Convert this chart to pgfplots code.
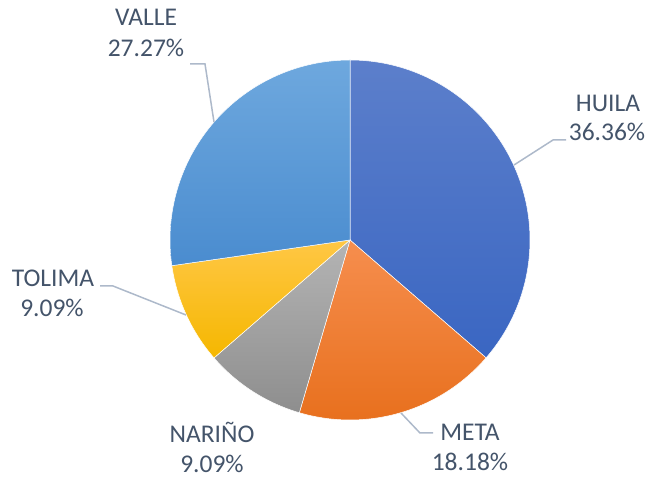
\documentclass[border=0pt]{standalone}
\usepackage{pgfplots}
\pgfplotsset{compat=1.18}
\usepackage{fontspec}
\setmainfont{Carlito}
\definecolor{txt}{HTML}{44546A}
\definecolor{leader}{HTML}{ADB9CA}
\definecolor{huilaT}{HTML}{5C7FCB}
\definecolor{huilaB}{HTML}{3A66C2}
\definecolor{metaT}{HTML}{F68E4E}
\definecolor{metaB}{HTML}{E8701E}
\definecolor{narT}{HTML}{B4B4B4}
\definecolor{narB}{HTML}{8E8E8E}
\definecolor{tolT}{HTML}{FFC745}
\definecolor{tolB}{HTML}{F5B700}
\definecolor{valT}{HTML}{6EA8DE}
\definecolor{valB}{HTML}{4A8CCF}
\def\cx{350}\def\cy{241}\def\rr{180}
\begin{document}
\begin{tikzpicture}
\begin{axis}[
  scale only axis, width=649pt, height=481pt,
  xmin=0, xmax=649, ymin=0, ymax=481,
  hide axis, clip=false,
  samples=120,
]
\path (0,0) rectangle (649,481);
% percentages: HUILA 36.36, META 18.18, NARINO 9.09, TOLIMA 9.09, VALLE 27.27
\addplot[top color=huilaT, bottom color=huilaB, draw=white, line width=0.5pt, domain={90-3.6*36.36}:{90-3.6*0}]
  ({\cx+\rr*cos(x)},{\cy+\rr*sin(x)}) -- (\cx,\cy) -- cycle;
\addplot[top color=metaT, bottom color=metaB, draw=white, line width=0.5pt, domain={90-3.6*54.54}:{90-3.6*36.36}]
  ({\cx+\rr*cos(x)},{\cy+\rr*sin(x)}) -- (\cx,\cy) -- cycle;
\addplot[top color=narT, bottom color=narB, draw=white, line width=0.5pt, domain={90-3.6*63.63}:{90-3.6*54.54}]
  ({\cx+\rr*cos(x)},{\cy+\rr*sin(x)}) -- (\cx,\cy) -- cycle;
\addplot[top color=tolT, bottom color=tolB, draw=white, line width=0.5pt, domain={90-3.6*72.72}:{90-3.6*63.63}]
  ({\cx+\rr*cos(x)},{\cy+\rr*sin(x)}) -- (\cx,\cy) -- cycle;
\addplot[top color=valT, bottom color=valB, draw=white, line width=0.5pt, domain={90-3.6*100}:{90-3.6*72.72}]
  ({\cx+\rr*cos(x)},{\cy+\rr*sin(x)}) -- (\cx,\cy) -- cycle;
% leader lines
\addplot[leader, line width=1.5pt, no marks] coordinates {(514,316) (553,341) (566,341)};
\addplot[leader, line width=1.5pt, no marks] coordinates {(401,68) (420,48) (433,48)};
\addplot[leader, line width=1.5pt, no marks] coordinates {(186,166) (113,195) (100,195)};
\addplot[leader, line width=1.5pt, no marks] coordinates {(214,359) (205,417) (190,417)};
% labels
\begin{scope}[every node/.style={text=txt, font=\fontsize{25.5}{30}\selectfont, anchor=base, inner sep=0pt}]
\node at (608,369) {HUILA};
\node at (607,340) {36.36\%};
\node at (470,40) {META};
\node at (470,10) {18.18\%};
\node at (212,38) {NARIÑO};
\node at (212,8) {9.09\%};
\node at (53,194) {TOLIMA};
\node at (52,164) {9.09\%};
\node at (146,455) {VALLE};
\node at (146,424) {27.27\%};
\end{scope}
\end{axis}
\end{tikzpicture}
\end{document}
